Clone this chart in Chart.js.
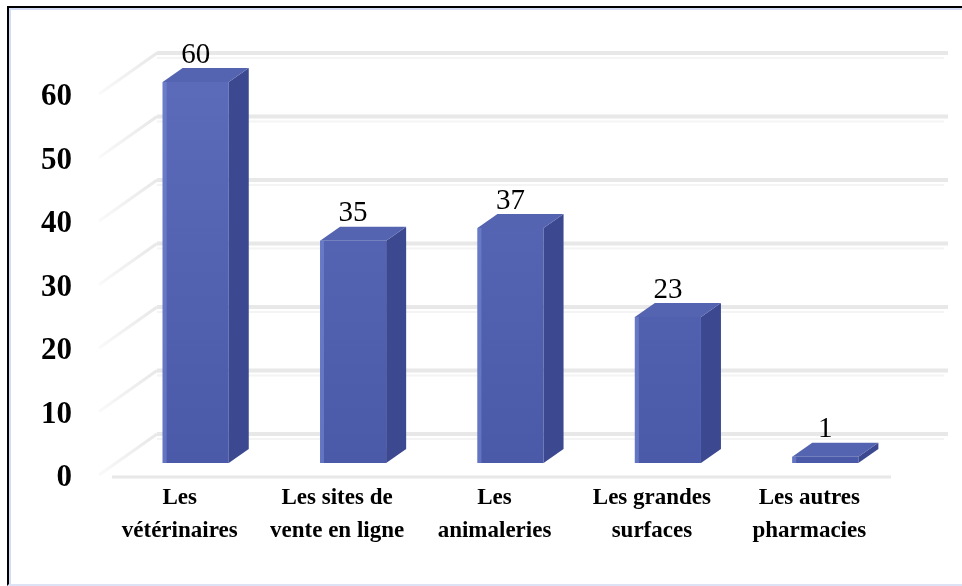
<!DOCTYPE html>
<html>
<head>
<meta charset="utf-8">
<script src="https://cdn.jsdelivr.net/npm/chart.js@4/dist/chart.umd.min.js"></script>
<style>
  html, body { margin: 0; padding: 0; background: #fff; }
  #wrap { position: relative; width: 962px; height: 586px; overflow: hidden; }
  #frame {
    position: absolute; left: 7px; top: 6px; width: 970px; height: 576px;
    border-left: 2px solid #000; border-top: 2px solid #000;
    border-bottom: 2px solid #dde3f5;
    box-shadow: inset 2px 2px 0 #d3dbf5;
    pointer-events: none;
  }
</style>
</head>
<body>
<div id="wrap">
  <canvas id="chart" width="962" height="586"></canvas>
  <div id="frame"></div>
</div>
<script>
const categories = [
  ["Les", "vétérinaires"],
  ["Les sites de", "vente en ligne"],
  ["Les", "animaleries"],
  ["Les grandes", "surfaces"],
  ["Les autres", "pharmacies"]
];
const counts = [60, 35, 37, 23, 1];
const yMax = 60;
const yStep = 10;

const serif = '"Liberation Serif", "Times New Roman", serif';

// depth of each bar and of the walls, in pixels
const barDepth = { dx: 20, dy: -14 };
const wallDepth = { dx: 40, dy: -29 };

const fake3d = {
  id: 'fake3d',
  beforeDatasetsDraw(chart) {
    const { ctx, chartArea: a, scales: { y } } = chart;
    ctx.save();
    ctx.lineCap = 'butt';
    y.ticks.forEach(t => {
      const py = y.getPixelForValue(t.value);
      // back wall
      ctx.strokeStyle = '#e8e8e8';
      ctx.lineWidth = 4;
      ctx.beginPath();
      ctx.moveTo(a.left + wallDepth.dx, py + wallDepth.dy);
      ctx.lineTo(a.right + 44, py + wallDepth.dy);
      ctx.stroke();
      ctx.strokeStyle = '#f4f4f4';
      ctx.lineWidth = 2;
      ctx.beginPath();
      ctx.moveTo(a.left + wallDepth.dx, py + wallDepth.dy + 5);
      ctx.lineTo(a.right + 40, py + wallDepth.dy + 5);
      ctx.stroke();
      // side wall
      const g = ctx.createLinearGradient(a.left - 18, 0, a.left + wallDepth.dx, 0);
      g.addColorStop(0, 'rgba(228,228,228,0.2)');
      g.addColorStop(1, 'rgba(232,232,232,1)');
      ctx.strokeStyle = g;
      ctx.lineWidth = 3;
      ctx.beginPath();
      ctx.moveTo(a.left - 18, py + 12);
      ctx.lineTo(a.left + wallDepth.dx, py + wallDepth.dy);
      ctx.stroke();
    });
    // floor front edge
    ctx.strokeStyle = '#e8e8e8';
    ctx.lineWidth = 3;
    ctx.beginPath();
    ctx.moveTo(a.left - 5, a.bottom + 14);
    ctx.lineTo(a.right - 13, a.bottom + 14);
    ctx.stroke();
    ctx.restore();
  },
  afterDatasetsDraw(chart) {
    const { ctx } = chart;
    const meta = chart.getDatasetMeta(0);
    ctx.save();
    meta.data.forEach((bar, i) => {
      const { x, y, base, width } = bar.getProps(['x', 'y', 'base', 'width'], true);
      const l = x - width / 2, r = x + width / 2;
      const { dx, dy } = barDepth;
      // side face
      ctx.fillStyle = '#3c4890';
      ctx.beginPath();
      ctx.moveTo(r, y);
      ctx.lineTo(r + dx, y + dy);
      ctx.lineTo(r + dx, base + dy);
      ctx.lineTo(r, base);
      ctx.closePath();
      ctx.fill();
      // top face
      ctx.fillStyle = '#5564b0';
      ctx.beginPath();
      ctx.moveTo(l, y);
      ctx.lineTo(l + dx, y + dy);
      ctx.lineTo(r + dx, y + dy);
      ctx.lineTo(r, y);
      ctx.closePath();
      ctx.fill();
      // light edge on the front face
      ctx.fillStyle = 'rgba(120,140,215,0.55)';
      ctx.fillRect(l, y, 4, base - y);
      // value
      ctx.fillStyle = '#000';
      ctx.font = '29px ' + serif;
      ctx.textAlign = 'center';
      ctx.textBaseline = 'middle';
      ctx.fillText(String(counts[i]), x, y - 27);
    });
    ctx.restore();
  }
};

const ctx = document.getElementById('chart').getContext('2d');
new Chart(ctx, {
  type: 'bar',
  data: {
    labels: categories,
    datasets: [{
      data: counts,
      backgroundColor(c) {
        const a = c.chart.chartArea;
        if (!a) return '#5060b0';
        const g = c.chart.ctx.createLinearGradient(0, a.top, 0, a.bottom);
        g.addColorStop(0, '#5b6bb9');
        g.addColorStop(1, '#4a59a8');
        return g;
      },
      borderWidth: 0,
      barPercentage: 0.42,
      categoryPercentage: 1
    }]
  },
  options: {
    responsive: false,
    devicePixelRatio: 1,
    animation: false,
    layout: { padding: { top: 82, right: 58, left: 0, bottom: 0 } },
    plugins: {
      legend: { display: false },
      tooltip: { enabled: false }
    },
    scales: {
      x: {
        grid: { display: false, drawTicks: false },
        border: { display: false },
        ticks: {
          color: '#000',
          padding: 18,
          labelOffset: -16,
          maxRotation: 0,
          autoSkip: false,
          font: { family: serif, size: 23, weight: 'bold', lineHeight: 1.45 }
        },
        afterFit(s) { s.height = 123; }
      },
      y: {
        min: 0,
        max: yMax,
        grid: { display: false, drawTicks: false },
        border: { display: false },
        ticks: {
          stepSize: yStep,
          color: '#000',
          padding: 45,
          labelOffset: 15,
          font: { family: serif, size: 31, weight: 'bold' }
        },
        afterFit(s) { s.width = 117; }
      }
    }
  },
  plugins: [fake3d]
});
</script>
</body>
</html>
